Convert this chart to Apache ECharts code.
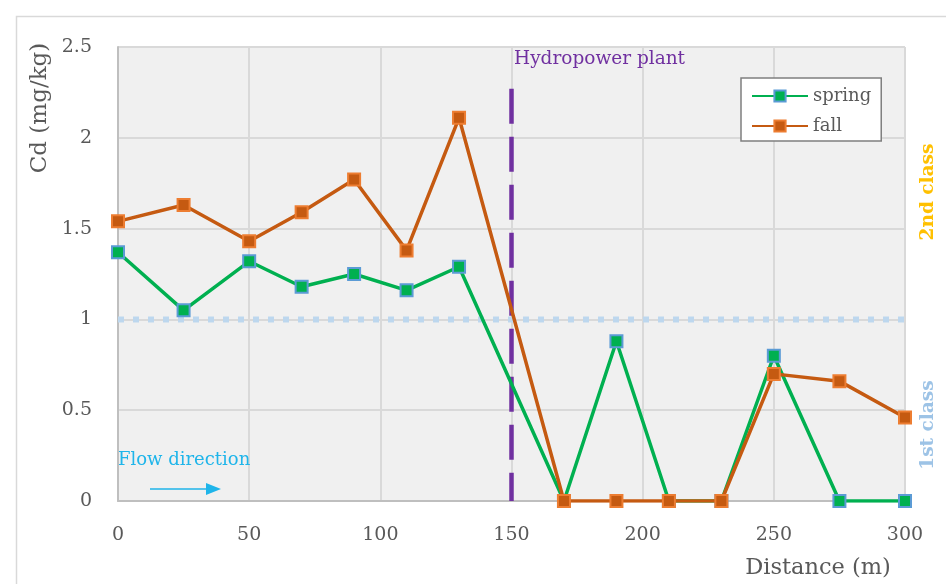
<!DOCTYPE html>
<html><head><meta charset="utf-8">
<script src="https://cdn.jsdelivr.net/npm/echarts@6/dist/echarts.min.js"></script>
<style>html,body{margin:0;padding:0;background:#fff}#c{width:946px;height:584px}</style>
</head><body><div id="c"></div>
<script>
const distances = [0, 25, 50, 70, 90, 110, 130, 170, 190, 210, 230, 250, 275, 300];
const spring = [1.37, 1.05, 1.32, 1.18, 1.25, 1.16, 1.29, 0, 0.88, 0, 0, 0.80, 0, 0];
const fall = [1.54, 1.63, 1.43, 1.59, 1.77, 1.38, 2.11, 0, 0, 0, 0, 0.70, 0.66, 0.46];
const plantX = 150;
const plantTop = 2.27;
const classLimit = 1;
const xTicks = [0, 50, 100, 150, 200, 250, 300];
const yTicks = [0, 0.5, 1, 1.5, 2, 2.5];

const FONT = '"DejaVu Serif"';
const chart = echarts.init(document.getElementById('c'), null, {renderer: 'canvas'});
const pair = arr => distances.map((d, i) => [d, arr[i]]);

chart.setOption({
  animation: false,
  backgroundColor: '#fff',
  textStyle: {fontFamily: FONT},
  grid: {left: 118, right: 41, top: 47, bottom: 83, show: true, backgroundColor: '#f0f0f0', borderWidth: 0},
  xAxis: {
    type: 'value', min: 0, max: 300, interval: 50,
    axisLine: {show: true, lineStyle: {color: '#bfbfbf', width: 2}},
    axisTick: {show: false},
    splitLine: {show: true, lineStyle: {color: '#d9d9d9', width: 2}},
    axisLabel: {color: '#595959', fontSize: 19, fontFamily: FONT, margin: 25,
      formatter: v => xTicks.includes(v) ? String(v) : ''}
  },
  yAxis: {
    type: 'value', min: 0, max: 2.5, interval: 0.5,
    axisLine: {show: true, lineStyle: {color: '#bfbfbf', width: 2}},
    axisTick: {show: false},
    splitLine: {show: true, lineStyle: {color: '#d9d9d9', width: 2}},
    axisLabel: {color: '#595959', fontSize: 19, fontFamily: FONT, margin: 26,
      formatter: v => yTicks.includes(v) ? String(v) : ''}
  },
  legend: {
    left: 741, top: 78, width: 142, height: 65, orient: 'vertical',
    backgroundColor: '#fff', borderColor: '#7f7f7f', borderWidth: 1.5,
    padding: [9, 10, 6, 10], itemGap: 12, itemWidth: 56, itemHeight: 14,
    textStyle: {color: '#595959', fontSize: 18, fontFamily: FONT},
    data: ['spring', 'fall']
  },
  series: [
    {
      name: 'class', type: 'line', silent: true, symbol: 'none', z: 1,
      data: [[0, classLimit], [300, classLimit]],
      lineStyle: {color: '#bdd7ee', width: 6, type: [6, 9]}
    },
    {
      name: 'plant', type: 'line', silent: true, symbol: 'none', z: 2,
      data: [[plantX, plantTop], [plantX, 0]],
      lineStyle: {color: '#7030a0', width: 4.5, type: [35, 13]}
    },
    {
      name: 'spring', type: 'line', data: pair(spring), z: 3,
      symbol: 'rect', symbolSize: 12,
      lineStyle: {color: '#00b050', width: 3.5},
      itemStyle: {color: '#00b050', borderColor: '#5b9bd5', borderWidth: 2}
    },
    {
      name: 'fall', type: 'line', data: pair(fall), z: 4,
      symbol: 'rect', symbolSize: 12,
      lineStyle: {color: '#c55a11', width: 3.5},
      itemStyle: {color: '#c55a11', borderColor: '#ed7d31', borderWidth: 2}
    }
  ],
  graphic: [
    {type: 'rect', left: 14, top: 14, shape: {width: 940, height: 580}, silent: true, z: -10,
      style: {fill: 'none', stroke: '#d9d9d9', lineWidth: 1.5}},
    {type: 'text', left: 514, top: 50, z: 20, style: {text: 'Hydropower plant', fill: '#7030a0', font: '18.5px ' + FONT}},
    {type: 'text', left: 118, top: 451, z: 20, style: {text: 'Flow direction', fill: '#1fb5ea', font: '18px ' + FONT}},
    {type: 'line', z: 20, shape: {x1: 150, y1: 489, x2: 208, y2: 489}, style: {stroke: '#1fb5ea', lineWidth: 1.5}},
    {type: 'polygon', z: 20, shape: {points: [[206, 483], [221, 489], [206, 495]]}, style: {fill: '#1fb5ea'}},
    {type: 'text', x: 40, y: 108, rotation: Math.PI / 2, z: 20,
      style: {text: 'Cd (mg/kg)', fill: '#595959', font: '23px ' + FONT, align: 'center', verticalAlign: 'middle'}},
    {type: 'text', x: 818, y: 568, z: 20,
      style: {text: 'Distance (m)', fill: '#595959', font: '22.5px ' + FONT, align: 'center', verticalAlign: 'middle'}},
    {type: 'text', x: 928, y: 192, rotation: Math.PI / 2, z: 20,
      style: {text: '2nd class', fill: '#ffc000', font: 'bold 18.5px ' + FONT, align: 'center', verticalAlign: 'middle'}},
    {type: 'text', x: 928, y: 425, rotation: Math.PI / 2, z: 20,
      style: {text: '1st class', fill: '#9dc3e6', font: 'bold 18.5px ' + FONT, align: 'center', verticalAlign: 'middle'}}
  ]
});
</script></body></html>
